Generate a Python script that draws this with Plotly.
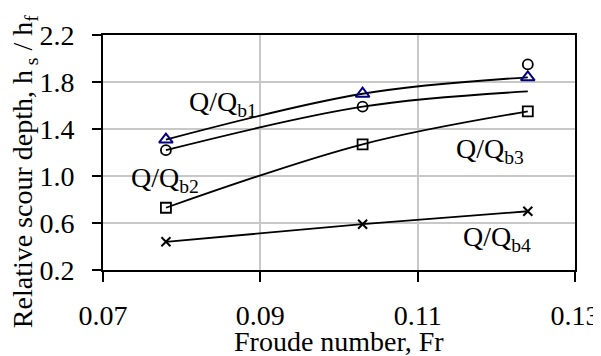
import plotly.graph_objects as go

froude = [0.078, 0.103, 0.124]
qb1_tri = [1.31, 1.70, 1.84]
qb1_fit = [1.31, 1.70, 1.84]
circle_pts = [1.22, 1.59, 1.95]
circle_fit = [1.22, 1.59, 1.72]
qb2_sq = [0.73, 1.27, 1.55]
qb4_x = [0.44, 0.59, 0.70]

x_ticks = [0.07, 0.09, 0.11, 0.13]
y_ticks = [0.2, 0.6, 1.0, 1.4, 1.8, 2.2]

FONT = "Liberation Serif, Times New Roman, serif"
FS = 28
fig = go.Figure()

def line(y):
    fig.add_trace(go.Scatter(x=froude, y=y, mode="lines",
                             line=dict(color="black", width=1.8, shape="spline", smoothing=1.0),
                             showlegend=False, hoverinfo="skip"))

line(qb1_fit)
line(circle_fit)
line(qb2_sq)
line(qb4_x)

fig.add_trace(go.Scatter(x=froude, y=qb1_tri, mode="markers",
                         marker=dict(symbol="triangle-up-open", size=12, color="#000080",
                                     line=dict(width=2, color="#000080")), showlegend=False))
fig.add_trace(go.Scatter(x=froude, y=circle_pts, mode="markers",
                         marker=dict(symbol="circle-open", size=10, color="black",
                                     line=dict(width=1.8, color="black")), showlegend=False))
fig.add_trace(go.Scatter(x=froude, y=qb2_sq, mode="markers",
                         marker=dict(symbol="square-open", size=10, color="black",
                                     line=dict(width=1.8, color="black")), showlegend=False))
fig.add_trace(go.Scatter(x=froude, y=qb4_x, mode="markers",
                         marker=dict(symbol="x-thin-open", size=9, color="black",
                                     line=dict(width=2, color="black")), showlegend=False))

labels = [
    ("Q/Q<sub>b1</sub>", 0.0853, 1.62),
    ("Q/Q<sub>b2</sub>", 0.0779, 0.97),
    ("Q/Q<sub>b3</sub>", 0.1192, 1.22),
    ("Q/Q<sub>b4</sub>", 0.1201, 0.47),
]
for t, x, y in labels:
    fig.add_annotation(x=x, y=y, text=t, showarrow=False,
                       font=dict(family=FONT, size=FS, color="black"))

fig.add_annotation(xref="paper", yref="paper", x=-0.167, y=0.417, textangle=-90,
                   xanchor="center", yanchor="middle",
                   text="Relative scour depth, h<sub> s</sub> / h<sub>f</sub>", showarrow=False,
                   font=dict(family=FONT, size=FS, color="black"))
fig.add_annotation(xref="paper", yref="paper", x=0.5, y=-0.305,
                   xanchor="center", yanchor="middle",
                   text="Froude number, Fr", showarrow=False,
                   font=dict(family=FONT, size=FS, color="black"))

fig.update_layout(
    width=593, height=348,
    margin=dict(l=95, r=26, t=27, b=86),
    paper_bgcolor="white", plot_bgcolor="white",
    font=dict(family=FONT, size=FS, color="black"),
    xaxis=dict(range=[0.07, 0.13], tickvals=x_ticks, ticktext=[f"{v:.2f}" for v in x_ticks],
               showgrid=True, gridcolor="#c8c8c8", gridwidth=1.5,
               showline=True, linecolor="black", linewidth=2, mirror=True,
               ticks="outside", ticklen=10, tickwidth=2, tickcolor="black",
               ticklabelstandoff=9, zeroline=False, automargin=False,
               tickfont=dict(family=FONT, size=FS)),
    yaxis=dict(range=[0.2, 2.2], tickvals=y_ticks, ticktext=[f"{v:.1f}" for v in y_ticks],
               showgrid=True, gridcolor="#c8c8c8", gridwidth=1.5,
               showline=True, linecolor="black", linewidth=2, mirror=True,
               ticks="outside", ticklen=9, tickwidth=2, tickcolor="black",
               ticklabelstandoff=12, zeroline=False, automargin=False,
               tickfont=dict(family=FONT, size=FS)),
)

fig.write_html("out.html")
